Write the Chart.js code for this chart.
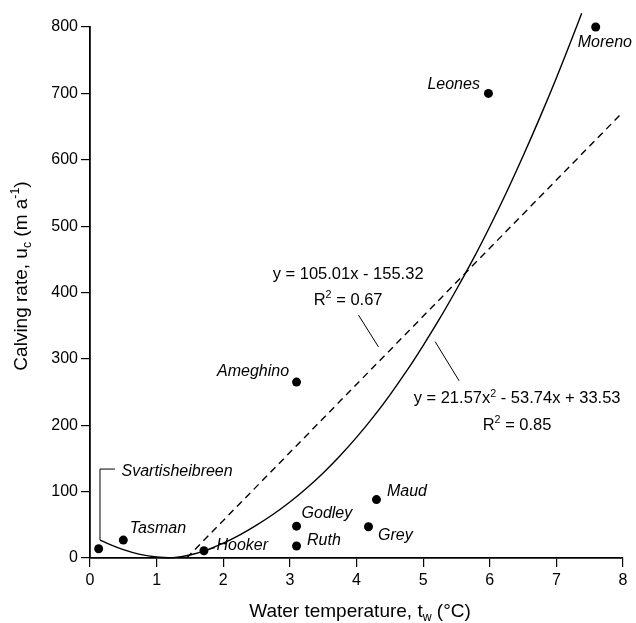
<!DOCTYPE html>
<html>
<head>
<meta charset="utf-8">
<script src="https://cdn.jsdelivr.net/npm/chart.js@4.4.1/dist/chart.umd.min.js"></script>
<style>
html,body{margin:0;padding:0;background:#fff;}
canvas{display:block;}
</style>
</head>
<body>
<canvas id="c" width="636" height="623"></canvas>
<script>
// ---- Data ----
const glaciers    = ['Svartisheibreen','Tasman','Hooker','Ameghino','Godley','Ruth','Maud','Grey','Leones','Moreno'];
const waterTemp   = [0.13, 0.5, 1.71, 3.1, 3.1, 3.1, 4.3, 4.18, 5.98, 7.59];
const calvingRate = [14, 27, 11, 265, 48, 18, 88, 47, 700, 800];

// linear fit line (dashed), end points
const linearFitX = [1.45, 8];
const linearFitY = [0, 672];

// quadratic fit curve (solid)
const quadFitX = [0.15,0.25,0.5,0.75,1.0,1.25,1.5,1.75,2.0,2.25,2.5,2.75,3.0,3.25,3.5,3.75,4.0,4.25,4.5,4.75,5.0,5.25,5.5,5.75,6.0,6.25,6.5,6.75,7.0,7.25,7.38];
const quadFitY = [27,22.4,12.5,5.4,1.4,0.6,4.5,12,22.3,34.8,49.5,65.9,84.4,105.2,128.2,153.8,181.7,212.2,245.5,281.4,320.1,360.9,404.5,450.2,499.1,550.7,605.6,663.1,723.3,786.7,820.7];

const xTicks = [0,1,2,3,4,5,6,7,8];
const yTicks = [0,100,200,300,400,500,600,700,800];

// ---- Label placement (pixel offsets from each point) ----
const labelOffsets = {
  Svartisheibreen: null,
  Tasman:   {dx: 6.5,  dy: -12,  align: 'left'},
  Hooker:   {dx: 12.5, dy: -5,   align: 'left'},
  Ameghino: {dx: -7.5, dy: -10.5,align: 'right'},
  Godley:   {dx: 5,    dy: -12.5,align: 'left'},
  Ruth:     {dx: 10.5, dy: -5.5, align: 'left'},
  Maud:     {dx: 10.5, dy: -8.5, align: 'left'},
  Grey:     {dx: 9.5,  dy: 8.5,  align: 'left'},
  Leones:   {dx: -8.5, dy: -8.5, align: 'right'},
  Moreno:   {dx: -18,  dy: 16,   align: 'left'}
};

const FONT = '"Liberation Sans", Arial, Helvetica, sans-serif';

function richWidth(ctx, parts, size){
  let w = 0;
  parts.forEach(p=>{
    const s = (p.sub||p.sup) ? size*0.65 : size;
    ctx.font = s + 'px ' + FONT;
    w += ctx.measureText(p.t).width;
  });
  return w;
}
function drawRich(ctx, parts, cx, cy, size){
  const w = richWidth(ctx, parts, size);
  let x = cx - w/2;
  ctx.textAlign = 'left';
  ctx.textBaseline = 'alphabetic';
  const base = cy + size*0.35;
  parts.forEach(p=>{
    const s = (p.sub||p.sup) ? size*0.65 : size;
    ctx.font = s + 'px ' + FONT;
    let yy = base;
    if (p.sub) yy = base + size*0.22;
    if (p.sup) yy = base - size*0.42;
    ctx.fillText(p.t, x, yy);
    x += ctx.measureText(p.t).width;
  });
}

const annotPlugin = {
  id: 'annot',
  afterDatasetsDraw(chart){
    const ctx = chart.ctx;
    const xs = chart.scales.x, ys = chart.scales.y;
    const X = v => xs.getPixelForValue(v);
    const Y = v => ys.getPixelForValue(v);
    ctx.save();
    ctx.fillStyle = '#000';
    ctx.strokeStyle = '#000';
    ctx.lineWidth = 1;

    // Svartisheibreen bracket
    ctx.beginPath();
    ctx.moveTo(X(quadFitX[0]), Y(quadFitY[0]));
    ctx.lineTo(X(quadFitX[0]), Y(134));
    ctx.lineTo(X(0.375), Y(134));
    ctx.stroke();

    // Hooker leader
    const hx = X(waterTemp[2]), hy = Y(calvingRate[2]);
    ctx.beginPath();
    ctx.moveTo(hx + 4, hy - 1);
    ctx.lineTo(hx + 11, hy - 3);
    ctx.stroke();

    // equation leaders
    ctx.beginPath();
    ctx.moveTo(X(4.03), Y(366));
    ctx.lineTo(X(4.33), Y(318));
    ctx.moveTo(X(5.18), Y(326));
    ctx.lineTo(X(5.54), Y(267));
    ctx.stroke();

    // glacier labels
    ctx.font = 'italic 16px ' + FONT;
    ctx.textBaseline = 'middle';
    ctx.textAlign = 'left';
    ctx.fillText('Svartisheibreen', X(0.375) + 6.5, Y(134) + 2.5);
    glaciers.forEach((g,i)=>{
      const o = labelOffsets[g];
      if (!o) return;
      ctx.textAlign = o.align;
      ctx.fillText(g, X(waterTemp[i]) + o.dx, Y(calvingRate[i]) + o.dy);
    });

    // equations
    drawRich(ctx, [{t:'y = 105.01x - 155.32'}], X(3.874), Y(429), 16.5);
    drawRich(ctx, [{t:'R'},{t:'2',sup:true},{t:' = 0.67'}], X(3.874), Y(390), 16.5);
    drawRich(ctx, [{t:'y = 21.57x'},{t:'2',sup:true},{t:' - 53.74x + 33.53'}], X(6.41), Y(241.5), 16.5);
    drawRich(ctx, [{t:'R'},{t:'2',sup:true},{t:' = 0.85'}], X(6.41), Y(202), 16.5);

    // axis titles
    const ca = chart.chartArea;
    drawRich(ctx, [{t:'Water temperature, t'},{t:'w',sub:true},{t:' (°C)'}], 360, ca.bottom + 52, 19);
    ctx.save();
    ctx.translate(20, 276);
    ctx.rotate(-Math.PI/2);
    drawRich(ctx, [{t:'Calving rate, u'},{t:'c',sub:true},{t:' (m a'},{t:'-1',sup:true},{t:')'}], 0, 0, 19);
    ctx.restore();

    ctx.restore();
  }
};

const pts = glaciers.map((g,i)=>({x: waterTemp[i], y: calvingRate[i]}));
const linPts = linearFitX.map((v,i)=>({x: v, y: linearFitY[i]}));
const quadPts = quadFitX.map((v,i)=>({x: v, y: quadFitY[i]}));

new Chart(document.getElementById('c'), {
  type: 'scatter',
  data: {
    datasets: [
      {
        type: 'line', data: quadPts, borderColor: '#000', borderWidth: 1.4,
        pointRadius: 0, tension: 0.4, fill: false, clip: false
      },
      {
        type: 'line', data: linPts, borderColor: '#000', borderWidth: 1.4,
        borderDash: [7,5], pointRadius: 0, fill: false, clip: false
      },
      {
        data: pts, backgroundColor: '#000', borderColor: '#000', borderWidth: 0,
        pointRadius: 4.5, clip: false
      }
    ]
  },
  options: {
    responsive: false,
    animation: false,
    events: [],
    layout: { padding: { top: 27, right: 13, bottom: 0, left: 0 } },
    plugins: { legend: { display: false }, tooltip: { enabled: false } },
    scales: {
      x: {
        type: 'linear', min: 0, max: 8,
        afterFit(s){ s.height = 65; },
        afterBuildTicks(s){ s.ticks = xTicks.map(v=>({value: v})); },
        grid: { display: true, drawOnChartArea: false, drawTicks: true, tickLength: 9, color: '#000', lineWidth: 1.2 },
        border: { display: true, color: '#000', width: 1.8 },
        ticks: { color: '#000', padding: 4, maxRotation: 0, font: { family: FONT, size: 16 } }
      },
      y: {
        type: 'linear', min: 0, max: 800,
        afterFit(s){ s.width = 90; },
        afterBuildTicks(s){ s.ticks = yTicks.map(v=>({value: v})); },
        grid: { display: true, drawOnChartArea: false, drawTicks: true, tickLength: 9, color: '#000', lineWidth: 1.2 },
        border: { display: true, color: '#000', width: 1.8 },
        ticks: { color: '#000', padding: 3, font: { family: FONT, size: 16 } }
      }
    }
  },
  plugins: [annotPlugin]
});
</script>
</body>
</html>
